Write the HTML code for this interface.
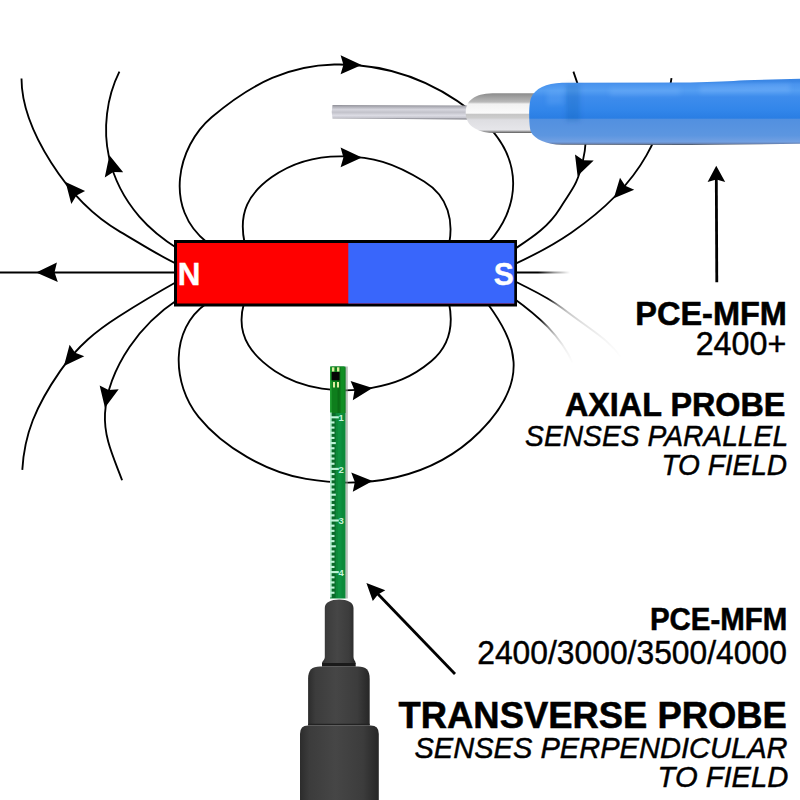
<!DOCTYPE html>
<html><head><meta charset="utf-8"><style>
html,body{margin:0;padding:0;background:#fff;}
body{width:800px;height:800px;overflow:hidden;position:relative;}
svg{position:absolute;left:0;top:0;}
text{font-family:"Liberation Sans",sans-serif;fill:#000;}
</style></head><body>
<svg width="800" height="800" viewBox="0 0 800 800">
<defs>
 <linearGradient id="needle" x1="0" y1="0" x2="0" y2="1">
  <stop offset="0" stop-color="#8e8e96"/>
  <stop offset="0.12" stop-color="#aeaeb6"/>
  <stop offset="0.32" stop-color="#d6d6de"/>
  <stop offset="0.5" stop-color="#c2c2ca"/>
  <stop offset="0.72" stop-color="#dcdce4"/>
  <stop offset="0.88" stop-color="#c6c6ce"/>
  <stop offset="1" stop-color="#6a6a72"/>
 </linearGradient>
 <linearGradient id="ferrule" x1="0" y1="0" x2="0" y2="1">
  <stop offset="0" stop-color="#8c8c8c"/>
  <stop offset="0.1" stop-color="#a2a2a2"/>
  <stop offset="0.22" stop-color="#bababa"/>
  <stop offset="0.27" stop-color="#f2f2f2"/>
  <stop offset="0.5" stop-color="#fafafa"/>
  <stop offset="0.53" stop-color="#c6c6c6"/>
  <stop offset="0.62" stop-color="#cdcdcd"/>
  <stop offset="0.67" stop-color="#dedee2"/>
  <stop offset="0.92" stop-color="#e6e6ea"/>
  <stop offset="1" stop-color="#5a5a5a"/>
 </linearGradient>
 <linearGradient id="blue" gradientUnits="userSpaceOnUse" x1="0" y1="81" x2="0" y2="145">
  <stop offset="0" stop-color="#3a86e4"/>
  <stop offset="0.05" stop-color="#4a94ee"/>
  <stop offset="0.15" stop-color="#549ef2"/>
  <stop offset="0.25" stop-color="#3e8cec"/>
  <stop offset="0.45" stop-color="#3286ea"/>
  <stop offset="0.58" stop-color="#2a7ee4"/>
  <stop offset="0.6" stop-color="#5290e0"/>
  <stop offset="0.85" stop-color="#5c96e0"/>
  <stop offset="0.95" stop-color="#72a0e2"/>
  <stop offset="0.975" stop-color="#6a8ac0"/>
  <stop offset="1" stop-color="#4a5058"/>
 </linearGradient>
 <linearGradient id="rubber" x1="0" y1="0" x2="1" y2="0">
  <stop offset="0" stop-color="#2c2c2c"/>
  <stop offset="0.12" stop-color="#3c3c3c"/>
  <stop offset="0.45" stop-color="#464646"/>
  <stop offset="0.8" stop-color="#3c3c3c"/>
  <stop offset="1" stop-color="#262626"/>
 </linearGradient>
  <linearGradient id="fadeE" gradientUnits="userSpaceOnUse" x1="548" y1="298" x2="622" y2="358">
  <stop offset="0" stop-color="#000" stop-opacity="1"/>
  <stop offset="0.12" stop-color="#000" stop-opacity="0.45"/>
  <stop offset="0.25" stop-color="#000" stop-opacity="0.22"/>
  <stop offset="0.45" stop-color="#000" stop-opacity="0.12"/>
  <stop offset="0.7" stop-color="#000" stop-opacity="0.05"/>
  <stop offset="1" stop-color="#000" stop-opacity="0"/>
 </linearGradient>
 <linearGradient id="fadeD" gradientUnits="userSpaceOnUse" x1="540" y1="318" x2="573" y2="364">
  <stop offset="0" stop-color="#000" stop-opacity="1"/>
  <stop offset="0.22" stop-color="#000" stop-opacity="0.45"/>
  <stop offset="0.42" stop-color="#000" stop-opacity="0.2"/>
  <stop offset="0.65" stop-color="#000" stop-opacity="0.07"/>
  <stop offset="1" stop-color="#000" stop-opacity="0"/>
 </linearGradient>
 <linearGradient id="fadeC" gradientUnits="userSpaceOnUse" x1="538" y1="272" x2="570" y2="272">
  <stop offset="0" stop-color="#000" stop-opacity="1"/>
  <stop offset="0.5" stop-color="#000" stop-opacity="0.4"/>
  <stop offset="1" stop-color="#000" stop-opacity="0"/>
 </linearGradient>
 <filter id="blur2" x="-20%" y="-20%" width="140%" height="140%"><feGaussianBlur stdDeviation="2"/></filter>
</defs>
<g fill="none" stroke="#000" stroke-width="1.85">
<path d="M207.10,242.40 C163.67,208.54 176.86,146.86 211.62,117.28 C253.44,81.69 290.63,65.53 334.25,64.52 C365.78,63.79 417.09,68.18 472.87,112.29 C530.87,158.15 517.08,211.61 488.50,242.50"/>
<path d="M244.60,243.00 C238.15,211.95 248.84,193.45 271.82,177.12 C291.17,163.38 316.55,155.92 342.63,156.38 C372.69,156.92 392.34,161.89 424.16,181.43 C449.42,196.94 453.01,222.03 449.30,243.00"/>
<path d="M206.50,303.50 C169.50,329.04 172.07,384.18 198.55,416.94 C223.27,447.53 266.82,472.29 306.09,478.96 C363.73,488.77 431.27,480.26 479.74,431.74 C532.39,379.03 514.68,340.77 487.50,303.50"/>
<path d="M243.90,303.50 C234.30,337.96 255.50,357.97 275.15,371.22 C302.69,389.78 340.48,393.32 370.69,388.12 C393.44,384.20 411.36,377.78 431.22,361.23 C455.38,341.09 451.33,314.27 449.00,303.00"/>
<path d="M21.50,78.50 C21.54,108.33 35.18,137.43 51.11,162.56 C70.27,192.78 91.85,215.44 120.23,231.84 C140.12,243.33 158.48,255.56 179.00,265.00"/>
<path d="M119.40,71.65 C106.50,97.55 102.84,129.11 108.95,156.84 C114.29,181.07 124.81,199.63 139.33,216.57 C149.45,228.38 164.52,240.36 179.00,249.50"/>
<path d="M179.00,280.50 C158.49,291.99 138.06,304.13 118.75,316.46 C96.65,330.56 77.86,345.48 60.12,371.12 C35.73,406.37 24.31,434.02 22.30,469.90"/>
<path d="M178.50,299.00 C157.64,312.81 142.64,327.57 129.68,346.80 C116.09,366.96 106.31,390.09 105.00,413.62 C103.66,437.60 113.60,457.42 122.10,480.30"/>
<path d="M671.50,78.10 C666.86,108.67 660.12,131.14 646.44,155.40 C628.51,187.20 600.94,212.22 571.24,232.69 C551.97,245.97 532.61,255.88 512.00,265.30"/>
<path d="M573.40,71.60 C584.23,100.57 589.74,131.93 582.88,160.91 C576.97,185.88 572.71,187.86 559.91,208.45 C547.53,228.38 529.81,238.81 512.00,250.80"/>
<path d="M0,272.5 L180,272.5"/>
</g>
<g fill="none" stroke-width="1.85">
<path d="M512.50,280.00 C531.04,289.94 545.38,295.44 562.39,308.31 C597.66,334.99 606.99,338.34 622.00,358.30" stroke="url(#fadeE)"/>
<path d="M512.50,297.50 C538.87,316.45 560.61,335.79 573.00,363.60" stroke="url(#fadeD)"/>
<path d="M510,272.5 L572,272.5" stroke="url(#fadeC)"/>
</g>
<g fill="#000">
<path d="M361.60,65.12 L340.60,55.30 L343.40,64.80 L340.60,74.20Z"/>
<path d="M361.90,157.62 L340.60,147.50 L343.40,157.38 L340.60,167.20Z"/>
<path d="M372.54,387.94 L350.60,380.90 L354.48,390.24 L352.80,400.30Z"/>
<path d="M372.55,481.03 L351.25,472.40 L354.82,481.93 L352.80,491.75Z"/>
<path d="M65.58,181.99 L71.30,204.10 L76.44,195.42 L85.10,191.10Z"/>
<path d="M109.40,155.23 L104.75,177.40 L113.34,172.07 L123.20,172.20Z"/>
<path d="M36.20,272.52 L56.90,262.50 L54.55,272.29 L57.80,282.00Z"/>
<path d="M63.92,366.10 L69.60,344.80 L75.15,352.65 L84.30,356.20Z"/>
<path d="M104.94,407.77 L99.65,385.50 L108.61,390.09 L118.70,389.20Z"/>
<path d="M577.55,175.92 L575.00,154.50 L583.38,160.13 L593.70,160.50Z"/>
<path d="M613.82,198.16 L620.00,177.70 L625.21,185.76 L634.20,189.70Z"/>
</g>
<!-- magnet -->
<rect x="175.5" y="241.5" width="340" height="63.5" fill="#ff0000" stroke="#000" stroke-width="3"/>
<rect x="348.3" y="243" width="166" height="60.5" fill="#3966fb"/>
<text x="177.7" y="285.2" font-weight="bold" font-size="31.4" style="fill:#fff" stroke="#fff" stroke-width="0.4">N</text>
<text transform="translate(493.7,284.6) scale(0.96,1)" font-weight="bold" font-size="31.3" style="fill:#fff" stroke="#fff" stroke-width="0.4">S</text>
<!-- axial probe -->
<path d="M332.5,105 L470,105.5 L470,119.5 L332.5,118.5 Q331,111.7 332.5,105Z" fill="url(#needle)"/>
<path d="M465.7,113 C465.7,106 468,101 474,97.5 C479,94.5 486,93.3 496,93.3 L535,93.3 L535,133 L496,133 C487,133 480,131.5 475,128.5 C468.5,125 465.7,119 465.7,113Z" fill="url(#ferrule)"/>
<path d="M562,82.8 L690,82.4 C715,82 730,81 745,80.2 L800,78.8 L800,143.8 L690,145 L562,144.8 C546,144.3 535,139.5 531,132 C528.6,126 528.6,104 531,98 C535,88.5 546,83.2 562,82.8Z" fill="url(#blue)"/>
<g filter="url(#blur2)"><path d="M566,84 L580,83.8 L580,121 L566,121.5Z" fill="#1a4a9a" opacity="0.2"/>
<path d="M547,90 L563,88 L563,104 L547,105Z" fill="#7ab8ff" opacity="0.2"/>
<path d="M700,86 L790,84 L790,92 L700,93Z" fill="#8ac0ff" opacity="0.25"/>
<path d="M610,88 L680,87 L680,95 L610,96Z" fill="#8ac0ff" opacity="0.2"/></g>
<!-- transverse probe -->
<rect x="330" y="366.5" width="15.6" height="232" fill="#0c8a3a"/>
<path d="M330,413 L330,368 Q330,366.5 332,366.5 L343.6,366.5 Q345.6,366.5 345.6,368 L345.6,413Z" fill="#0e7e1c"/>
<rect x="330" y="367" width="1.6" height="46" fill="#28a83a" opacity="0.8"/>
<rect x="337.5" y="380" width="2.2" height="33" fill="#0a6614" opacity="0.7"/>
<rect x="341" y="367" width="3.5" height="46" fill="#149a28" opacity="0.6"/>
<rect x="345.6" y="366.5" width="2.2" height="232" fill="#8a948a" opacity="0.6"/>
<rect x="331" y="413" width="4.6" height="185" fill="#0a6a2a"/>
<rect x="338" y="413" width="3.5" height="185" fill="#14a050" opacity="0.35"/>
<g fill="#bff4da">
<rect x="330.1" y="412.5" width="1.5" height="185"/>
<rect x="330.3" y="416.25" width="8.5" height="2.1"/>
<rect x="330.3" y="421.41" width="4.2" height="2.1"/>
<rect x="330.3" y="426.57" width="4.2" height="2.1"/>
<rect x="330.3" y="431.73" width="4.2" height="2.1"/>
<rect x="330.3" y="436.89" width="4.2" height="2.1"/>
<rect x="330.3" y="442.05" width="5.5" height="2.1"/>
<rect x="330.3" y="447.21" width="4.2" height="2.1"/>
<rect x="330.3" y="452.37" width="4.2" height="2.1"/>
<rect x="330.3" y="457.53" width="4.2" height="2.1"/>
<rect x="330.3" y="462.69" width="4.2" height="2.1"/>
<rect x="330.3" y="467.85" width="8.5" height="2.1"/>
<rect x="330.3" y="473.01" width="4.2" height="2.1"/>
<rect x="330.3" y="478.17" width="4.2" height="2.1"/>
<rect x="330.3" y="483.33" width="4.2" height="2.1"/>
<rect x="330.3" y="488.49" width="4.2" height="2.1"/>
<rect x="330.3" y="493.65" width="5.5" height="2.1"/>
<rect x="330.3" y="498.81" width="4.2" height="2.1"/>
<rect x="330.3" y="503.97" width="4.2" height="2.1"/>
<rect x="330.3" y="509.13" width="4.2" height="2.1"/>
<rect x="330.3" y="514.29" width="4.2" height="2.1"/>
<rect x="330.3" y="519.45" width="8.5" height="2.1"/>
<rect x="330.3" y="524.61" width="4.2" height="2.1"/>
<rect x="330.3" y="529.77" width="4.2" height="2.1"/>
<rect x="330.3" y="534.93" width="4.2" height="2.1"/>
<rect x="330.3" y="540.09" width="4.2" height="2.1"/>
<rect x="330.3" y="545.25" width="5.5" height="2.1"/>
<rect x="330.3" y="550.41" width="4.2" height="2.1"/>
<rect x="330.3" y="555.57" width="4.2" height="2.1"/>
<rect x="330.3" y="560.73" width="4.2" height="2.1"/>
<rect x="330.3" y="565.89" width="4.2" height="2.1"/>
<rect x="330.3" y="571.05" width="8.5" height="2.1"/>
<rect x="330.3" y="576.21" width="4.2" height="2.1"/>
<rect x="330.3" y="581.37" width="4.2" height="2.1"/>
<rect x="330.3" y="586.53" width="4.2" height="2.1"/>
<rect x="330.3" y="591.69" width="4.2" height="2.1"/>
</g>
<text x="338.4" y="420.90" font-size="9.5" font-weight="bold" style="fill:#c8f4dc">1</text>
<text x="338.4" y="472.50" font-size="9.5" font-weight="bold" style="fill:#c8f4dc">2</text>
<text x="338.4" y="524.10" font-size="9.5" font-weight="bold" style="fill:#c8f4dc">3</text>
<text x="338.4" y="575.70" font-size="9.5" font-weight="bold" style="fill:#c8f4dc">4</text>
<rect x="331.6" y="372" width="8" height="8.3" fill="#050505"/>
<g fill="#e0eca0"><rect x="332" y="367.3" width="2.4" height="4.2"/><rect x="337" y="367.3" width="2.4" height="4.2"/><rect x="333" y="382" width="2" height="5.5"/><rect x="337" y="382" width="2" height="5.5"/></g>
<path d="M324.8,608 C324.8,602.5 331,599.6 339.2,599.6 C347.5,599.6 353.5,602.5 353.5,608 L353.5,657 C353.5,660 355.7,661 355.7,663.5 L322,663.5 C322,661 324.8,660 324.8,657 Z" fill="url(#rubber)"/>
<rect x="322" y="663" width="33.7" height="3.6" fill="#1a1a1a"/>
<path d="M308.1,679 C308.1,670 312,666.6 320,666.6 L358,666.6 C366,666.6 369.7,670 369.7,679 L369.7,725 L308.1,725Z" fill="url(#rubber)"/>
<rect x="308.1" y="723.8" width="61.6" height="1.8" fill="#222"/>
<path d="M300,734 Q300,725.6 308,725.6 L370.8,725.6 Q378.8,725.6 378.8,734 L378.8,800 L300,800Z" fill="url(#rubber)"/>
<!-- text arrows -->
<path d="M716.8,282.2 L716.3,178" stroke="#000" stroke-width="2.8" fill="none"/>
<path d="M716.25,165.8 L725.2,182 L716.3,179.5 L707.6,182Z" fill="#000"/>
<path d="M455,674 L376,592" stroke="#000" stroke-width="2.8" fill="none"/>
<path d="M366.4,582.9 L385.3,590.2 L378,594.5 L372.8,601.1Z" fill="#000"/>
<!-- text -->
<text transform="translate(635.22,325.46) scale(0.9700,1)" font-weight="bold" font-style="normal" font-size="33.52" stroke="#000" stroke-width="0.55">PCE-MFM</text>
<text transform="translate(695.63,354.66) scale(0.9557,1)" font-weight="normal" font-style="normal" font-size="33.80" stroke="#000" stroke-width="0.45">2400+</text>
<text transform="translate(564.93,416.37) scale(0.9697,1)" font-weight="bold" font-style="normal" font-size="33.38" stroke="#000" stroke-width="0.55">AXIAL PROBE</text>
<text transform="translate(525.05,445.70) scale(0.9457,1)" font-weight="normal" font-style="italic" font-size="29.86" stroke="#000" stroke-width="0.45">SENSES PARALLEL</text>
<text transform="translate(661.48,474.71) scale(0.9594,1)" font-weight="normal" font-style="italic" font-size="29.23" stroke="#000" stroke-width="0.45">TO FIELD</text>
<text transform="translate(649.94,630.29) scale(0.9425,1)" font-weight="bold" font-style="normal" font-size="31.27" stroke="#000" stroke-width="0.55">PCE-MFM</text>
<text transform="translate(477.21,664.17) scale(0.9610,1)" font-weight="normal" font-style="normal" font-size="33.11" stroke="#000" stroke-width="0.45">2400/3000/3500/4000</text>
<text transform="translate(398.54,728.32) scale(0.9683,1)" font-weight="bold" font-style="normal" font-size="37.61" stroke="#000" stroke-width="0.55">TRANSVERSE PROBE</text>
<text transform="translate(414.43,757.80) scale(0.9784,1)" font-weight="normal" font-style="italic" font-size="29.72" stroke="#000" stroke-width="0.45">SENSES PERPENDICULAR</text>
<text transform="translate(657.62,786.51) scale(1.0084,1)" font-weight="normal" font-style="italic" font-size="28.94" stroke="#000" stroke-width="0.45">TO FIELD</text>
</svg>
</body></html>
